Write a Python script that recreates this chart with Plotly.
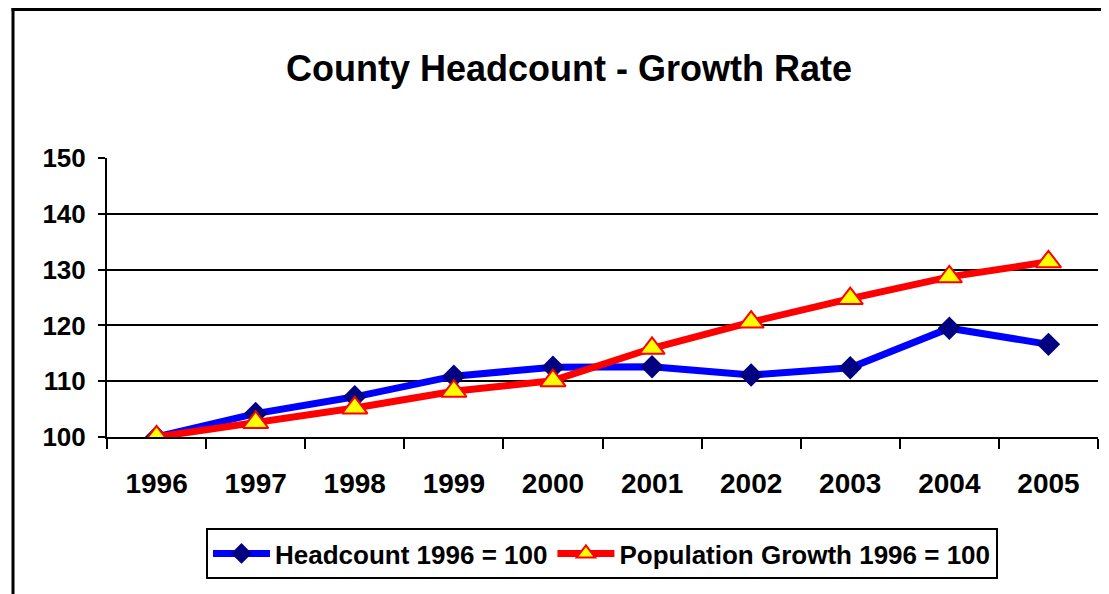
import plotly.graph_objects as go

years = ["1996", "1997", "1998", "1999", "2000", "2001", "2002", "2003", "2004", "2005"]
headcount = [100, 104.2, 107.2, 110.9, 112.5, 112.6, 111.1, 112.4, 119.5, 116.6]
population = [100, 102.6, 105.2, 108.2, 110.1, 115.9, 120.6, 124.8, 128.7, 131.4]
y_ticks = [100, 110, 120, 130, 140, 150]

FONT = "Liberation Sans, Arial, sans-serif"
OFF = 8  # page body margin offset

fig = go.Figure()
fig.add_trace(go.Scatter(
    x=years, y=headcount, mode="lines+markers", name="Headcount 1996 = 100",
    line=dict(color="#0000FF", width=7),
    marker=dict(symbol="diamond", size=18, color="#000080", line=dict(width=0)),
))
fig.add_trace(go.Scatter(
    x=years, y=population, mode="lines+markers", name="Population Growth 1996 = 100",
    line=dict(color="#FF0000", width=7),
    marker=dict(symbol="triangle-up", size=22, color="#FFFF00", line=dict(color="#FF0000", width=2)),
))

def px(x):
    return (x - 107) / 991

def py(y):
    return (437 - y) / 279

fig.add_shape(type="line", xref="paper", yref="paper", x0=px(13), x1=px(13), y0=py(8), y1=py(620),
              line=dict(color="black", width=3))
fig.add_shape(type="line", xref="paper", yref="paper", x0=px(11.5), x1=px(1130), y0=py(9.5), y1=py(9.5),
              line=dict(color="black", width=3))

fig.update_layout(
    width=1109, height=594,
    margin=dict(l=107 - OFF, r=11 + OFF, t=158 - OFF, b=157 + OFF),
    paper_bgcolor="white", plot_bgcolor="white",
    font=dict(family=FONT, color="black"),
    title=dict(text="<b>County Headcount - Growth Rate</b>", font=dict(size=36, family=FONT, color="black"),
               x=(569 - OFF) / 1109, xref="container", xanchor="center",
               y=1 - (68 - OFF) / 594, yref="container", yanchor="middle"),
    showlegend=True,
    legend=dict(orientation="h", x=px(602), xanchor="center", y=py(528), yanchor="top",
                bgcolor="white", bordercolor="black", borderwidth=2,
                font=dict(size=26, family=FONT, color="black", weight="bold"),
                itemwidth=57, tracegroupgap=0),
    xaxis=dict(type="category", range=[-0.5, 9.5], showgrid=False, showline=True, linecolor="black", linewidth=2,
               ticks="outside", tickson="boundaries", ticklen=10, tickwidth=2, tickcolor="black",
               tickfont=dict(size=28, family=FONT, color="black", weight="bold"), ticklabelstandoff=20,
               zeroline=False),
    yaxis=dict(range=[100, 150], tickvals=y_ticks, showgrid=True, gridcolor="black", gridwidth=2,
               showline=True, linecolor="black", linewidth=2, ticks="outside", ticklen=7, tickwidth=2,
               tickcolor="black", tickfont=dict(size=26, family=FONT, color="black", weight="bold"),
               ticklabelstandoff=7, zeroline=False),
)

fig.write_html("out.html")
